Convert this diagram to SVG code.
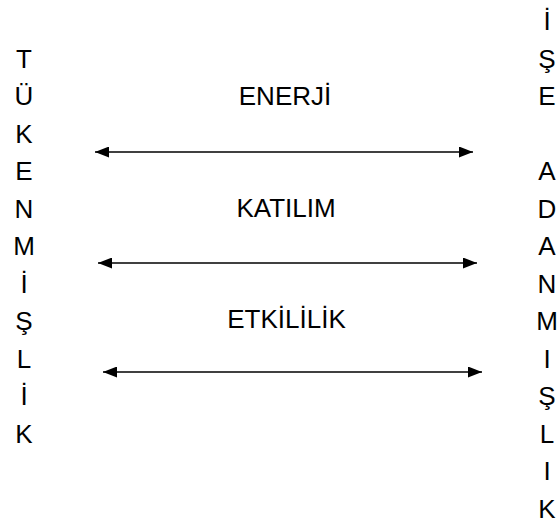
<svg xmlns="http://www.w3.org/2000/svg" width="558" height="523" viewBox="0 0 558 523">
<style>
text{font-family:"Liberation Sans",Arial,sans-serif;font-size:26px;fill:#000;text-anchor:middle}
.c line{stroke:#000;stroke-width:1.5}
</style>
<defs>
<marker id="ah" viewBox="0 0 14 11" refX="14" refY="5.5" markerWidth="14" markerHeight="11" markerUnits="userSpaceOnUse" orient="auto-start-reverse">
<path d="M0,0 L14,5.5 L0,11 Z" fill="#000"/>
</marker>
</defs>
<rect width="558" height="523" fill="#fff"/>
<g id="tukenmislik">
<text x="24" y="67.5">T</text>
<text x="24" y="105">Ü</text>
<text x="24" y="142.5">K</text>
<text x="24" y="180">E</text>
<text x="24" y="217.5">N</text>
<text x="24" y="255">M</text>
<text x="24" y="292.5">İ</text>
<text x="24" y="330">Ş</text>
<text x="24" y="367.5">L</text>
<text x="24" y="405">İ</text>
<text x="24" y="442.5">K</text>
</g>
<g id="ise-adanmislik">
<text x="547" y="30">İ</text>
<text x="547" y="67.5">Ş</text>
<text x="547" y="105">E</text>
<text x="547" y="180">A</text>
<text x="547" y="217.5">D</text>
<text x="547" y="255">A</text>
<text x="547" y="292.5">N</text>
<text x="547" y="330">M</text>
<text x="547" y="367.5">I</text>
<text x="547" y="405">Ş</text>
<text x="547" y="442.5">L</text>
<text x="547" y="480">I</text>
<text x="547" y="517.5">K</text>
</g>
<g id="enerji"><text x="285" y="105">ENERJİ</text></g>
<g id="katilim"><text x="286" y="217">KATILIM</text></g>
<g id="etkililik"><text x="286.5" y="328">ETKİLİLİK</text></g>
<g class="c" id="connectors">
<line x1="95" y1="152" x2="473" y2="152" marker-start="url(#ah)" marker-end="url(#ah)"/>
<line x1="98" y1="263" x2="477" y2="263" marker-start="url(#ah)" marker-end="url(#ah)"/>
<line x1="103" y1="372" x2="482" y2="372" marker-start="url(#ah)" marker-end="url(#ah)"/>
</g>
</svg>
